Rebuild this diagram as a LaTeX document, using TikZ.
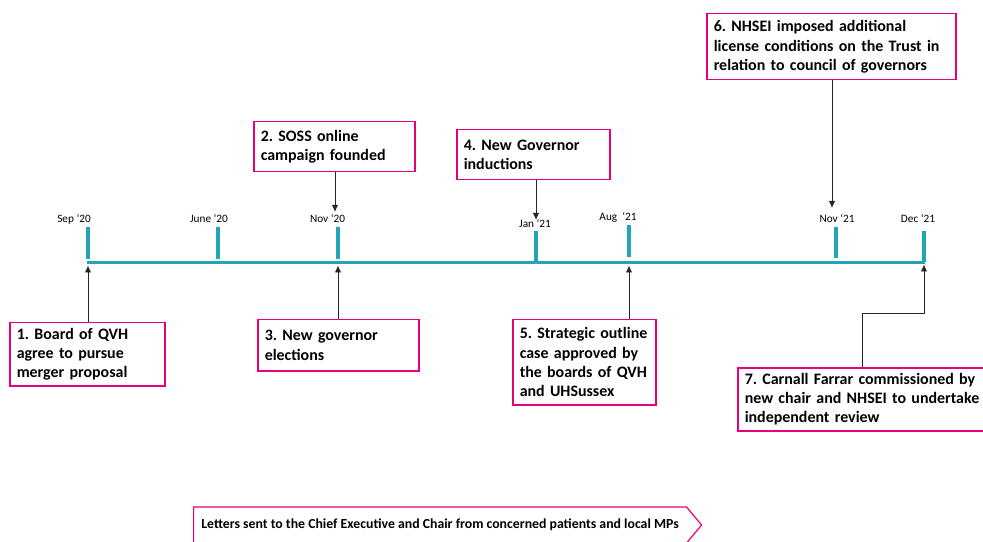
\documentclass[tikz,border=0pt]{standalone}
\usepackage{fontspec}
\setmainfont{Carlito}
\usetikzlibrary{arrows.meta, positioning, shapes.symbols}
\definecolor{tealline}{RGB}{36,164,184}
\definecolor{pinkline}{RGB}{230,0,126}
\frenchspacing
\hyphenpenalty=10000

\begin{document}
\begin{tikzpicture}
    [
        x=1bp, y=-1bp,
        font=\fontsize{16}{19.4}\selectfont\bfseries,
        event/.style  ={draw=pinkline, line width=1.5bp, fill=white, anchor=north west,
                        align=left, inner xsep=7bp, inner ysep=0pt},
        month/.style  ={font=\fontsize{11.3}{13}\selectfont, inner sep=0pt},
        mtick/.style  ={draw=tealline, line width=3.5bp},
        axis/.style   ={draw=tealline, line width=3.5bp},
        oarc/.style   ={-{Latex[length=7bp,width=6.5bp]}, draw=black!85, line width=0.9bp},
        letters/.style={signal, signal to=east, signal pointer angle=100, draw=pinkline,
                        line width=1.2bp, anchor=west, minimum width=508bp, minimum height=36bp,
                        font=\fontsize{13.85}{15}\selectfont\bfseries, inner xsep=2bp}
    ]
    \useasboundingbox (0,0) rectangle (983,542);

    % timeline
    \draw[axis]   (87,262.5) -- (925,262.5);
    \draw[mtick]  (88,227) -- (88,259);
    \draw[mtick]  (218,227) -- (218,259);
    \draw[mtick]  (338,227) -- (338,259);
    \draw[mtick]  (536,231) -- (536,262);
    \draw[mtick]  (629,225) -- (629,257);
    \draw[mtick]  (836,227) -- (836,258);
    \draw[mtick]  (924,231) -- (924,262);

    \node[month]  (l1) at (74,219)   {Sep ‘20};
    \node[month]  (l2) at (209,218)  {June ‘20};
    \node[month]  (l3) at (327.5,218){Nov ‘20};
    \node[month]  (l4) at (535,223)  {Jan ‘21};
    \node[month]  (l5) at (618,217)  {Aug \ ‘21};
    \node[month]  (l6) at (837,218)  {Nov ‘21};
    \node[month]  (l7) at (918,218)  {Dec ‘21};

    % arrow ends
    \coordinate   (m1) at (88,265.5);
    \coordinate   (m3) at (338,265.5);
    \coordinate   (m5) at (629,265.5);
    \coordinate   (m7) at (924,264.5);
    \coordinate   (p3) at (335,212);
    \coordinate   (p4) at (536,220);
    \coordinate   (p6) at (832,208);
    \coordinate   (k7) at (862,313);

    % events
    \node[event, text width=141bp, minimum height=63bp] (b1) at (9,322)
        {1. Board of QVH\\agree to pursue\\merger proposal};
    \node[event, text width=147bp, minimum height=50bp] (b2) at (253,121)
        {2. SOSS online\\campaign founded};
    \node[event, text width=147bp, minimum height=51bp] (b3) at (257,319)
        {3. New governor\\elections};
    \node[event, text width=139bp, minimum height=50bp] (b4) at (456,129)
        {4. New Governor\\inductions};
    \node[event, text width=129bp, minimum height=85bp] (b5) at (512,319)
        {5. Strategic outline\\case approved by\\the boards of QVH\\and UHSussex};
    \node[event, text width=235bp, minimum height=66bp] (b6) at (706,13)
        {6. NHSEI imposed additional\\license conditions on the Trust in\\relation to council of governors};
    \node[event, text width=245bp, minimum height=63bp] (b7) at (737,367)
        {7. Carnall Farrar commissioned by\\new chair and NHSEI to undertake\\independent review};

    \node[letters] (let) at (193,525)
        {Letters sent to the Chief Executive and Chair from concerned patients and local MPs};

    % connectors
    \draw[oarc]   (b1.north -| m1) -- (m1);
    \draw[oarc]   (b2.south -| p3) -- (p3);
    \draw[oarc]   (b3.north -| m3) -- (m3);
    \draw[oarc]   (b4.south -| p4) -- (p4);
    \draw[oarc]   (b5.north -| m5) -- (m5);
    \draw[oarc]   (b6.south -| p6) -- (p6);
    \draw[oarc]   (b7.north -| k7) -- (k7) -| (m7);

\end{tikzpicture}
\end{document}
